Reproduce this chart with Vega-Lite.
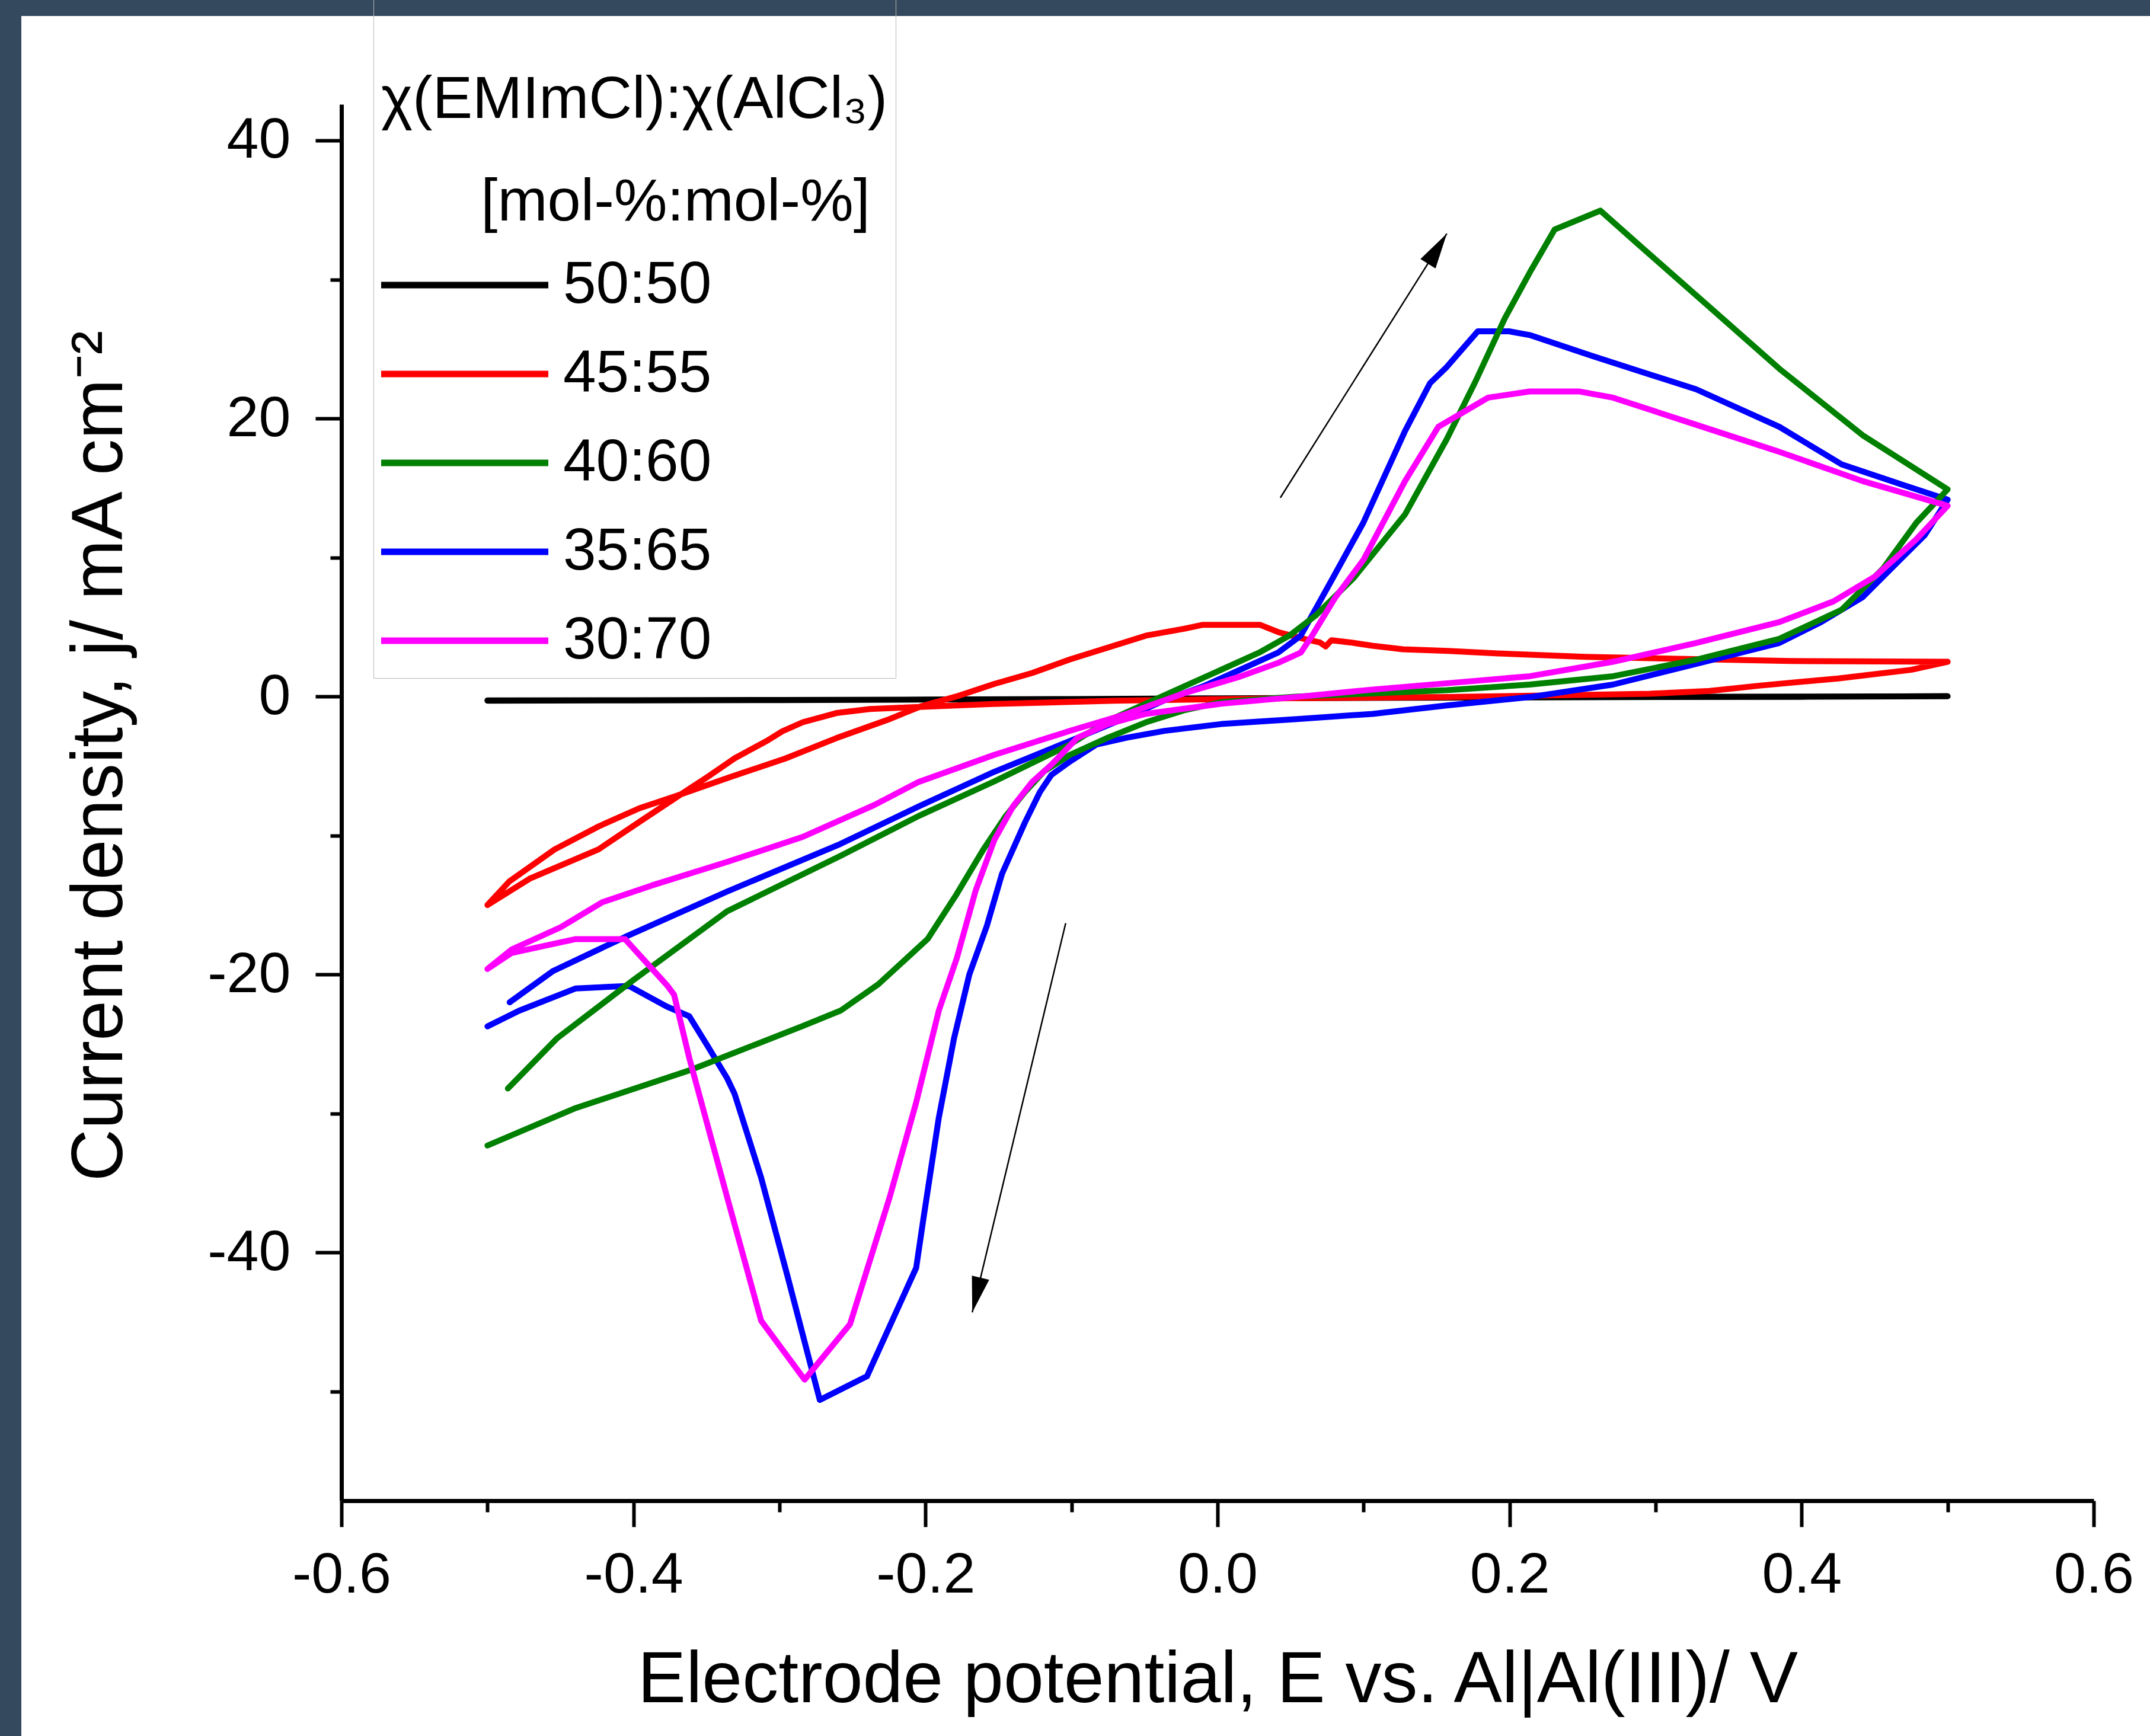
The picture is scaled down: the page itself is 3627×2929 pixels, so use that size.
{
  "$schema": "https://vega.github.io/schema/vega-lite/v6.json",
  "width": 3591,
  "height": 2902,
  "autosize": {"type": "none"},
  "padding": {"left": 36, "top": 27, "right": 0, "bottom": 0},
  "background": "#34495e",
  "config": {
    "view": {"fill": "white", "stroke": null},
    "font": "Liberation Sans"
  },
  "datasets": {
    "cv": [
      {"s":"50:50","i":0,"E":-0.5,"j":-0.3},{"s":"50:50","i":1,"E":-0.4,"j":-0.28},{"s":"50:50","i":2,"E":-0.3,"j":-0.26},{"s":"50:50","i":3,"E":-0.2,"j":-0.22},{"s":"50:50","i":4,"E":-0.1,"j":-0.18},{"s":"50:50","i":5,"E":0,"j":-0.13},{"s":"50:50","i":6,"E":0.1,"j":-0.09},{"s":"50:50","i":7,"E":0.2,"j":-0.05},{"s":"50:50","i":8,"E":0.3,"j":-0.02},{"s":"50:50","i":9,"E":0.4,"j":0},{"s":"50:50","i":10,"E":0.5,"j":0.02},{"s":"50:50","i":11,"E":0.4,"j":-0.02},{"s":"50:50","i":12,"E":0.3,"j":-0.04},{"s":"50:50","i":13,"E":0.2,"j":-0.07},{"s":"50:50","i":14,"E":0.1,"j":-0.1},{"s":"50:50","i":15,"E":0,"j":-0.14},{"s":"50:50","i":16,"E":-0.1,"j":-0.18},{"s":"50:50","i":17,"E":-0.2,"j":-0.22},{"s":"50:50","i":18,"E":-0.3,"j":-0.25},{"s":"50:50","i":19,"E":-0.4,"j":-0.27},{"s":"50:50","i":20,"E":-0.5,"j":-0.28},

      {"s":"45:55","i":0,"E":-0.5,"j":-15.0},{"s":"45:55","i":1,"E":-0.485,"j":-13.3},{"s":"45:55","i":2,"E":-0.454,"j":-11.0},{"s":"45:55","i":3,"E":-0.424,"j":-9.35},{"s":"45:55","i":4,"E":-0.396,"j":-8.04},{"s":"45:55","i":5,"E":-0.372,"j":-7.2},{"s":"45:55","i":6,"E":-0.334,"j":-5.8},{"s":"45:55","i":7,"E":-0.296,"j":-4.46},{"s":"45:55","i":8,"E":-0.261,"j":-2.99},{"s":"45:55","i":9,"E":-0.226,"j":-1.68},{"s":"45:55","i":10,"E":-0.203,"j":-0.7},{"s":"45:55","i":11,"E":-0.179,"j":0.0},{"s":"45:55","i":12,"E":-0.153,"j":0.9},{"s":"45:55","i":13,"E":-0.127,"j":1.69},{"s":"45:55","i":14,"E":-0.101,"j":2.67},{"s":"45:55","i":15,"E":-0.075,"j":3.52},{"s":"45:55","i":16,"E":-0.049,"j":4.38},{"s":"45:55","i":17,"E":-0.023,"j":4.87},{"s":"45:55","i":18,"E":-0.01,"j":5.16},{"s":"45:55","i":19,"E":0.029,"j":5.16},{"s":"45:55","i":20,"E":0.042,"j":4.62},{"s":"45:55","i":21,"E":0.06,"j":4.13},{"s":"45:55","i":22,"E":0.07,"j":3.89},{"s":"45:55","i":23,"E":0.074,"j":3.6},{"s":"45:55","i":24,"E":0.078,"j":4.05},{"s":"45:55","i":25,"E":0.091,"j":3.89},{"s":"45:55","i":26,"E":0.106,"j":3.65},{"s":"45:55","i":27,"E":0.127,"j":3.4},{"s":"45:55","i":28,"E":0.158,"j":3.28},{"s":"45:55","i":29,"E":0.192,"j":3.1},{"s":"45:55","i":30,"E":0.252,"j":2.85},{"s":"45:55","i":31,"E":0.392,"j":2.55},{"s":"45:55","i":32,"E":0.5,"j":2.5},{"s":"45:55","i":33,"E":0.475,"j":1.92},{"s":"45:55","i":34,"E":0.425,"j":1.3},{"s":"45:55","i":35,"E":0.371,"j":0.78},{"s":"45:55","i":36,"E":0.337,"j":0.4},{"s":"45:55","i":37,"E":0.296,"j":0.2},{"s":"45:55","i":38,"E":0.242,"j":0.1},{"s":"45:55","i":39,"E":0.157,"j":-0.04},{"s":"45:55","i":40,"E":0.05,"j":-0.12},{"s":"45:55","i":41,"E":-0.07,"j":-0.3},{"s":"45:55","i":42,"E":-0.154,"j":-0.54},{"s":"45:55","i":43,"E":-0.214,"j":-0.79},{"s":"45:55","i":44,"E":-0.238,"j":-0.9},{"s":"45:55","i":45,"E":-0.261,"j":-1.19},{"s":"45:55","i":46,"E":-0.284,"j":-1.85},{"s":"45:55","i":47,"E":-0.298,"j":-2.5},{"s":"45:55","i":48,"E":-0.308,"j":-3.15},{"s":"45:55","i":49,"E":-0.331,"j":-4.46},{"s":"45:55","i":50,"E":-0.349,"j":-5.76},{"s":"45:55","i":51,"E":-0.368,"j":-7.07},{"s":"45:55","i":52,"E":-0.396,"j":-9.02},{"s":"45:55","i":53,"E":-0.424,"j":-11.0},{"s":"45:55","i":54,"E":-0.471,"j":-13.1},{"s":"45:55","i":55,"E":-0.5,"j":-15.0},

      {"s":"35:65","i":0,"E":-0.4848,"j":-22.0},{"s":"35:65","i":1,"E":-0.455,"j":-19.74},{"s":"35:65","i":2,"E":-0.4058,"j":-17.3},{"s":"35:65","i":3,"E":-0.3359,"j":-14.03},{"s":"35:65","i":4,"E":-0.2582,"j":-10.6},{"s":"35:65","i":5,"E":-0.2046,"j":-7.9},{"s":"35:65","i":6,"E":-0.1528,"j":-5.41},{"s":"35:65","i":7,"E":-0.101,"j":-3.2},{"s":"35:65","i":8,"E":-0.0622,"j":-1.5},{"s":"35:65","i":9,"E":-0.0363,"j":-0.27},{"s":"35:65","i":10,"E":-0.0104,"j":0.71},{"s":"35:65","i":11,"E":0.0156,"j":1.93},{"s":"35:65","i":12,"E":0.0415,"j":3.16},{"s":"35:65","i":13,"E":0.057,"j":4.38},{"s":"35:65","i":14,"E":0.0648,"j":5.85},{"s":"35:65","i":15,"E":0.0803,"j":8.78},{"s":"35:65","i":16,"E":0.0999,"j":12.52},{"s":"35:65","i":17,"E":0.1284,"j":19.1},{"s":"35:65","i":18,"E":0.1455,"j":22.54},{"s":"35:65","i":19,"E":0.1569,"j":23.7},{"s":"35:65","i":20,"E":0.1782,"j":26.27},{"s":"35:65","i":21,"E":0.1996,"j":26.27},{"s":"35:65","i":22,"E":0.2138,"j":26.0},{"s":"35:65","i":23,"E":0.2565,"j":24.5},{"s":"35:65","i":24,"E":0.3277,"j":22.1},{"s":"35:65","i":25,"E":0.3847,"j":19.4},{"s":"35:65","i":26,"E":0.4274,"j":16.7},{"s":"35:65","i":27,"E":0.4701,"j":15.2},{"s":"35:65","i":28,"E":0.5,"j":14.16},{"s":"35:65","i":29,"E":0.4844,"j":11.62},{"s":"35:65","i":30,"E":0.4644,"j":9.53},{"s":"35:65","i":31,"E":0.4417,"j":7.14},{"s":"35:65","i":32,"E":0.4132,"j":5.35},{"s":"35:65","i":33,"E":0.3847,"j":3.85},{"s":"35:65","i":34,"E":0.3277,"j":2.35},{"s":"35:65","i":35,"E":0.2708,"j":0.86},{"s":"35:65","i":36,"E":0.2138,"j":-0.04},{"s":"35:65","i":37,"E":0.1569,"j":-0.64},{"s":"35:65","i":38,"E":0.1062,"j":-1.25},{"s":"35:65","i":39,"E":0.0544,"j":-1.62},{"s":"35:65","i":40,"E":0.0026,"j":-1.98},{"s":"35:65","i":41,"E":-0.0363,"j":-2.47},{"s":"35:65","i":42,"E":-0.0622,"j":-2.96},{"s":"35:65","i":43,"E":-0.0829,"j":-3.45},{"s":"35:65","i":44,"E":-0.101,"j":-4.67},{"s":"35:65","i":45,"E":-0.1139,"j":-5.65},{"s":"35:65","i":46,"E":-0.1217,"j":-6.88},{"s":"35:65","i":47,"E":-0.132,"j":-9.08},{"s":"35:65","i":48,"E":-0.1476,"j":-12.75},{"s":"35:65","i":49,"E":-0.158,"j":-16.5},{"s":"35:65","i":50,"E":-0.17,"j":-20.0},{"s":"35:65","i":51,"E":-0.1805,"j":-24.6},{"s":"35:65","i":52,"E":-0.1909,"j":-30.3},{"s":"35:65","i":53,"E":-0.2012,"j":-37.4},{"s":"35:65","i":54,"E":-0.2064,"j":-41.1},{"s":"35:65","i":55,"E":-0.2401,"j":-48.9},{"s":"35:65","i":56,"E":-0.2724,"j":-50.6},{"s":"35:65","i":57,"E":-0.2789,"j":-48.0},{"s":"35:65","i":58,"E":-0.2945,"j":-41.7},{"s":"35:65","i":59,"E":-0.3126,"j":-34.6},{"s":"35:65","i":60,"E":-0.3307,"j":-28.6},{"s":"35:65","i":61,"E":-0.3359,"j":-27.45},{"s":"35:65","i":62,"E":-0.3489,"j":-25.2},{"s":"35:65","i":63,"E":-0.3618,"j":-23.0},{"s":"35:65","i":64,"E":-0.3773,"j":-22.3},{"s":"35:65","i":65,"E":-0.4032,"j":-20.82},{"s":"35:65","i":66,"E":-0.4395,"j":-21.0},{"s":"35:65","i":67,"E":-0.4783,"j":-22.6},{"s":"35:65","i":68,"E":-0.5,"j":-23.73},

      {"s":"40:60","i":0,"E":-0.486,"j":-28.2},{"s":"40:60","i":1,"E":-0.4525,"j":-24.6},{"s":"40:60","i":2,"E":-0.4007,"j":-20.45},{"s":"40:60","i":3,"E":-0.3359,"j":-15.45},{"s":"40:60","i":4,"E":-0.2582,"j":-11.46},{"s":"40:60","i":5,"E":-0.2046,"j":-8.59},{"s":"40:60","i":6,"E":-0.1528,"j":-6.1},{"s":"40:60","i":7,"E":-0.101,"j":-3.45},{"s":"40:60","i":8,"E":-0.0751,"j":-1.74},{"s":"40:60","i":9,"E":-0.0492,"j":-0.52},{"s":"40:60","i":10,"E":-0.0233,"j":0.71},{"s":"40:60","i":11,"E":0.0026,"j":1.93},{"s":"40:60","i":12,"E":0.0285,"j":3.16},{"s":"40:60","i":13,"E":0.0492,"j":4.38},{"s":"40:60","i":14,"E":0.0674,"j":5.85},{"s":"40:60","i":15,"E":0.0933,"j":8.54},{"s":"40:60","i":16,"E":0.1284,"j":13.1},{"s":"40:60","i":17,"E":0.1569,"j":18.5},{"s":"40:60","i":18,"E":0.1768,"j":22.7},{"s":"40:60","i":19,"E":0.1967,"j":27.2},{"s":"40:60","i":20,"E":0.2138,"j":30.5},{"s":"40:60","i":21,"E":0.2309,"j":33.6},{"s":"40:60","i":22,"E":0.2622,"j":34.95},{"s":"40:60","i":23,"E":0.2879,"j":32.55},{"s":"40:60","i":24,"E":0.3363,"j":28.07},{"s":"40:60","i":25,"E":0.3847,"j":23.58},{"s":"40:60","i":26,"E":0.4417,"j":18.8},{"s":"40:60","i":27,"E":0.5,"j":14.9},{"s":"40:60","i":28,"E":0.4787,"j":12.52},{"s":"40:60","i":29,"E":0.4559,"j":9.23},{"s":"40:60","i":30,"E":0.4274,"j":6.24},{"s":"40:60","i":31,"E":0.3847,"j":4.15},{"s":"40:60","i":32,"E":0.3277,"j":2.65},{"s":"40:60","i":33,"E":0.2708,"j":1.46},{"s":"40:60","i":34,"E":0.2138,"j":0.86},{"s":"40:60","i":35,"E":0.1569,"j":0.45},{"s":"40:60","i":36,"E":0.0999,"j":0.2},{"s":"40:60","i":37,"E":0.0544,"j":0.0},{"s":"40:60","i":38,"E":0.0026,"j":-0.4},{"s":"40:60","i":39,"E":-0.0233,"j":-1.0},{"s":"40:60","i":40,"E":-0.0492,"j":-1.86},{"s":"40:60","i":41,"E":-0.0751,"j":-2.96},{"s":"40:60","i":42,"E":-0.101,"j":-4.19},{"s":"40:60","i":43,"E":-0.1191,"j":-5.41},{"s":"40:60","i":44,"E":-0.132,"j":-6.88},{"s":"40:60","i":45,"E":-0.145,"j":-8.59},{"s":"40:60","i":46,"E":-0.1606,"j":-11.04},{"s":"40:60","i":47,"E":-0.1787,"j":-14.22},{"s":"40:60","i":48,"E":-0.1986,"j":-17.45},{"s":"40:60","i":49,"E":-0.2323,"j":-20.7},{"s":"40:60","i":50,"E":-0.2582,"j":-22.6},{"s":"40:60","i":51,"E":-0.2841,"j":-23.7},{"s":"40:60","i":52,"E":-0.3618,"j":-26.9},{"s":"40:60","i":53,"E":-0.4395,"j":-29.6},{"s":"40:60","i":54,"E":-0.5,"j":-32.3},

      {"s":"30:70","i":0,"E":-0.5,"j":-19.6},{"s":"30:70","i":1,"E":-0.4835,"j":-18.2},{"s":"30:70","i":2,"E":-0.4499,"j":-16.6},{"s":"30:70","i":3,"E":-0.4214,"j":-14.8},{"s":"30:70","i":4,"E":-0.3877,"j":-13.6},{"s":"30:70","i":5,"E":-0.3359,"j":-11.9},{"s":"30:70","i":6,"E":-0.2841,"j":-10.1},{"s":"30:70","i":7,"E":-0.235,"j":-7.8},{"s":"30:70","i":8,"E":-0.2046,"j":-6.14},{"s":"30:70","i":9,"E":-0.1528,"j":-4.19},{"s":"30:70","i":10,"E":-0.101,"j":-2.47},{"s":"30:70","i":11,"E":-0.0622,"j":-1.25},{"s":"30:70","i":12,"E":-0.0233,"j":0.22},{"s":"30:70","i":13,"E":0.0156,"j":1.44},{"s":"30:70","i":14,"E":0.0415,"j":2.42},{"s":"30:70","i":15,"E":0.057,"j":3.16},{"s":"30:70","i":16,"E":0.0648,"j":4.38},{"s":"30:70","i":17,"E":0.0803,"j":7.07},{"s":"30:70","i":18,"E":0.0999,"j":9.83},{"s":"30:70","i":19,"E":0.1284,"j":15.5},{"s":"30:70","i":20,"E":0.1512,"j":19.4},{"s":"30:70","i":21,"E":0.1853,"j":21.5},{"s":"30:70","i":22,"E":0.2138,"j":21.94},{"s":"30:70","i":23,"E":0.248,"j":21.94},{"s":"30:70","i":24,"E":0.2708,"j":21.5},{"s":"30:70","i":25,"E":0.3277,"j":19.55},{"s":"30:70","i":26,"E":0.3847,"j":17.6},{"s":"30:70","i":27,"E":0.4417,"j":15.5},{"s":"30:70","i":28,"E":0.5,"j":13.72},{"s":"30:70","i":29,"E":0.4787,"j":11.33},{"s":"30:70","i":30,"E":0.4502,"j":8.63},{"s":"30:70","i":31,"E":0.4217,"j":6.84},{"s":"30:70","i":32,"E":0.3847,"j":5.35},{"s":"30:70","i":33,"E":0.3277,"j":3.85},{"s":"30:70","i":34,"E":0.2708,"j":2.5},{"s":"30:70","i":35,"E":0.2138,"j":1.46},{"s":"30:70","i":36,"E":0.1569,"j":0.95},{"s":"30:70","i":37,"E":0.1062,"j":0.5},{"s":"30:70","i":38,"E":0.0544,"j":-0.03},{"s":"30:70","i":39,"E":0.0026,"j":-0.52},{"s":"30:70","i":40,"E":-0.0492,"j":-1.25},{"s":"30:70","i":41,"E":-0.0751,"j":-1.98},{"s":"30:70","i":42,"E":-0.0958,"j":-2.96},{"s":"30:70","i":43,"E":-0.1139,"j":-4.92},{"s":"30:70","i":44,"E":-0.1269,"j":-6.14},{"s":"30:70","i":45,"E":-0.1398,"j":-7.86},{"s":"30:70","i":46,"E":-0.1528,"j":-10.3},{"s":"30:70","i":47,"E":-0.1657,"j":-13.97},{"s":"30:70","i":48,"E":-0.1787,"j":-18.87},{"s":"30:70","i":49,"E":-0.1909,"j":-22.6},{"s":"30:70","i":50,"E":-0.2064,"j":-29.2},{"s":"30:70","i":51,"E":-0.2245,"j":-36.0},{"s":"30:70","i":52,"E":-0.2517,"j":-45.15},{"s":"30:70","i":53,"E":-0.2828,"j":-49.14},{"s":"30:70","i":54,"E":-0.3126,"j":-44.9},{"s":"30:70","i":55,"E":-0.3359,"j":-36.0},{"s":"30:70","i":56,"E":-0.3618,"j":-26.0},{"s":"30:70","i":57,"E":-0.3722,"j":-21.45},{"s":"30:70","i":58,"E":-0.3773,"j":-20.74},{"s":"30:70","i":59,"E":-0.4058,"j":-17.45},{"s":"30:70","i":60,"E":-0.4395,"j":-17.45},{"s":"30:70","i":61,"E":-0.4835,"j":-18.45},{"s":"30:70","i":62,"E":-0.5,"j":-19.6}
    ],
    "arrows": [
      {"arrow": "anodic", "k": 0, "E": 0.043, "j": 14.3},
      {"arrow": "anodic", "k": 1, "E": 0.157, "j": 33.3},
      {"arrow": "cathodic", "k": 0, "E": -0.104, "j": -16.3},
      {"arrow": "cathodic", "k": 1, "E": -0.168, "j": -44.3}
    ]
  },
  "layer": [
    {
      "data": {"name": "cv"},
      "mark": {"type": "line", "strokeWidth": 10, "strokeJoin": "round", "strokeCap": "round"},
      "encoding": {
        "x": {
          "field": "E", "type": "quantitative",
          "scale": {"domain": [-0.6, 0.6], "range": [540, 3496], "nice": false, "zero": false},
          "axis": {
            "title": "Electrode potential, E vs. Al|Al(III)/ V",
            "values": [-0.6, -0.5, -0.4, -0.3, -0.2, -0.1, 0, 0.1, 0.2, 0.3, 0.4, 0.5, 0.6],
            "labelExpr": "round(datum.value*10) % 2 == 0 ? replace(format(datum.value, '.1f'), '−', '-') : ''",
            "tickSize": {"condition": {"test": "round(datum.value*10) % 2 == 0", "value": 44}, "value": 19},
            "offset": -397,
            "grid": false,
            "domainColor": "black", "domainWidth": 7,
            "tickColor": "black", "tickWidth": 6,
            "labelFontSize": 97, "labelColor": "black", "labelPadding": 33,
            "labelFlush": false, "labelOverlap": false, "labelBound": false,
            "titleFontSize": 122, "titleFontWeight": "normal", "titleColor": "black", "titlePadding": 70
          }
        },
        "y": {
          "field": "j", "type": "quantitative",
          "scale": {"domain": [-57.85, 42.6], "range": [2505, 149], "nice": false, "zero": false},
          "axis": {
            "title": "Current density, j/ mA cm⁻²",
            "values": [-50, -40, -30, -20, -10, 0, 10, 20, 30, 40],
            "labelExpr": "round(datum.value/10) % 2 == 0 ? replace(format(datum.value, 'd'), '−', '-') : ''",
            "tickSize": {"condition": {"test": "round(datum.value/10) % 2 == 0", "value": 44}, "value": 19},
            "offset": -540,
            "grid": false,
            "domainColor": "black", "domainWidth": 7,
            "tickColor": "black", "tickWidth": 6,
            "labelFontSize": 97, "labelColor": "black", "labelPadding": 42,
            "labelOverlap": false, "labelBound": false,
            "titleFontSize": 122, "titleFontWeight": "normal", "titleColor": "black", "titlePadding": 145,
            "titleY": 1248
          }
        },
        "color": {
          "field": "s", "type": "nominal",
          "scale": {"domain": ["50:50", "45:55", "40:60", "35:65", "30:70"], "range": ["#000000", "#ff0000", "#008000", "#0000ff", "#ff00ff"]},
          "legend": {
            "title": ["\u200b\u00a0", "χ(EMImCl):χ(AlCl₃)", "\u200b\u00a0\u00a0\u00a0\u00a0\u00a0\u00a0[mol-%:mol-%]"],
            "orient": "none", "legendX": 594, "legendY": -94,
            "padding": 13,
            "strokeColor": "#b8b8b8",
            "titleFontSize": 101, "titleFontWeight": "normal", "titleColor": "black",
            "titleLineHeight": 173, "titlePadding": 38, "titleLimit": 2000,
            "labelFontSize": 100, "labelColor": "black", "labelOffset": 257, "labelLimit": 1000,
            "symbolType": "M0,0H10", "symbolSize": 3181, "symbolStrokeWidth": 11, "symbolOffset": -50,
            "rowPadding": 50
          }
        },
        "order": {"field": "i", "type": "quantitative"}
      }
    },
    {
      "data": {"name": "arrows"},
      "mark": {"type": "line", "color": "black", "strokeWidth": 2.5},
      "encoding": {
        "x": {"field": "E", "type": "quantitative", "scale": {"domain": [-0.6, 0.6], "range": [540, 3496], "nice": false, "zero": false}},
        "y": {"field": "j", "type": "quantitative", "scale": {"domain": [-57.85, 42.6], "range": [2505, 149], "nice": false, "zero": false}},
        "detail": {"field": "arrow", "type": "nominal"},
        "order": {"field": "k", "type": "quantitative"}
      }
    },
    {
      "data": {"name": "arrows"},
      "transform": [{"filter": "datum.arrow == 'anodic' && datum.k == 1"}],
      "mark": {"type": "point", "shape": "M0,0L-0.5,2L0.5,2Z", "filled": true, "color": "black", "opacity": 1, "size": 3600, "angle": 32},
      "encoding": {
        "x": {"field": "E", "type": "quantitative", "scale": {"domain": [-0.6, 0.6], "range": [540, 3496], "nice": false, "zero": false}},
        "y": {"field": "j", "type": "quantitative", "scale": {"domain": [-57.85, 42.6], "range": [2505, 149], "nice": false, "zero": false}}
      }
    },
    {
      "data": {"name": "arrows"},
      "transform": [{"filter": "datum.arrow == 'cathodic' && datum.k == 1"}],
      "mark": {"type": "point", "shape": "M0,0L-0.5,2L0.5,2Z", "filled": true, "color": "black", "opacity": 1, "size": 3600, "angle": 193.5},
      "encoding": {
        "x": {"field": "E", "type": "quantitative", "scale": {"domain": [-0.6, 0.6], "range": [540, 3496], "nice": false, "zero": false}},
        "y": {"field": "j", "type": "quantitative", "scale": {"domain": [-57.85, 42.6], "range": [2505, 149], "nice": false, "zero": false}}
      }
    }
  ]
}
